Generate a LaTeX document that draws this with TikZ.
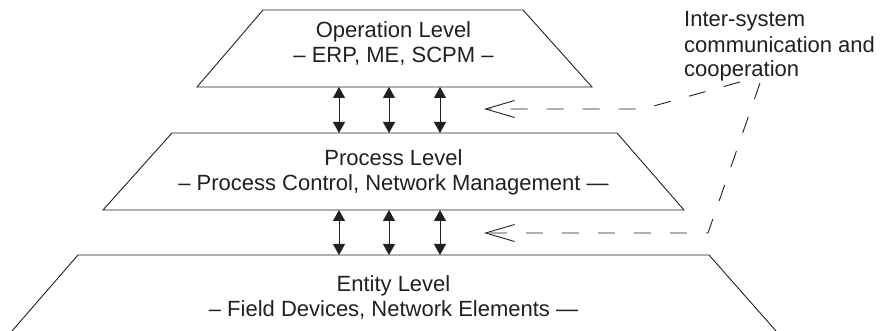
\documentclass[tikz,border=0pt]{standalone}
\usepackage{fontspec}
\setmainfont{Liberation Sans}
\usetikzlibrary{arrows.meta}
\definecolor{ink}{HTML}{231F20}
\begin{document}
\begin{tikzpicture}[x=1pt,y=-1pt,
  level/.style={draw=ink,line width=0.9pt,line join=miter},
  lbl/.style={anchor=base,inner sep=0pt,text=ink,font=\fontsize{22}{25}\selectfont},
  note/.style={anchor=base west,inner sep=0pt,text=ink,font=\fontsize{22}{25}\selectfont},
  link/.style={draw=ink,line width=0.9pt,{Triangle[length=11pt,width=12pt]}-{Triangle[length=11pt,width=12pt]}},
  comm/.style={draw=ink,line width=0.9pt,dash pattern=on 17pt off 19pt,-{Straight Barb[length=29pt,width=17pt,line width=0.9pt]}}]
\useasboundingbox (0,0) rectangle (887,331);
% levels
\draw[level] (263,10) -- (523,10) -- (592,87) -- (197,87) -- cycle;
\draw[level] (172,133) -- (617,133) -- (684,210) -- (103,210) -- cycle;
\draw[level] (12,331) -- (78,255) -- (709,255) -- (776,331);
% texts
\node[lbl] (opT) at (393.5,38) {Operation Level};
\node[lbl] (opS) at (393.5,63) {– ERP, ME, SCPM –};
\node[lbl] (prT) at (393.5,166) {Process Level};
\node[lbl] (prS) at (393.5,191) {– Process Control, Network Management —};
\node[lbl] (enT) at (393.5,292) {Entity Level};
\node[lbl] (enS) at (393.5,317) {– Field Devices, Network Elements —};
\node[note] (n1) at (684,27) {Inter-system};
\node[note] (n2) at (684,53) {communication and};
\node[note] (n3) at (684,77) {cooperation};
% arrow end points
\foreach \i/\x in {1/339,2/389,3/440}{
  \coordinate (a\i) at (\x,87);
  \coordinate (b\i) at (\x,133);
  \coordinate (c\i) at (\x,210);
  \coordinate (d\i) at (\x,255);
  \draw[link] (a\i) -- (b\i);
  \draw[link] (c\i) -- (d\i);
}
% dashed connectors
\coordinate (s1) at (740,82);
\coordinate (k1) at (643,109);
\coordinate (t1) at (484,109);
\coordinate (s2) at (760,83);
\coordinate (k2) at (708,233);
\coordinate (t2) at (484,233);
\draw[comm] (s1) -- (k1) -- (t1);
\draw[comm] (s2) -- (k2) -- (t2);
\end{tikzpicture}
\end{document}
